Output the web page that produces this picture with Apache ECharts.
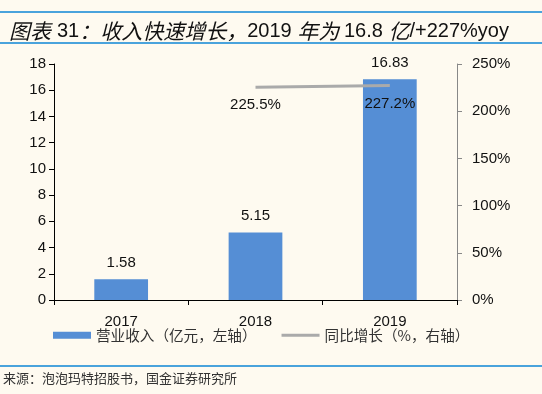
<!DOCTYPE html>
<html><head><meta charset="utf-8">
<script src="https://cdn.jsdelivr.net/npm/echarts@6/dist/echarts.min.js"></script>
<style>html,body{margin:0;padding:0;background:#fefaf0}#c{width:542px;height:394px}</style>
</head><body><div id="c"></div>
<script>
const categories = ['2017', '2018', '2019'];
const revenue = [1.58, 5.15, 16.83];
const growth = [null, 225.5, 227.2];
const growthLabels = ['', '225.5%', '227.2%'];
const leftTicks = [0, 18, 2];
const rightTicks = [0, 250, 50];

const chart = echarts.init(document.getElementById('c'), null, {renderer: 'canvas'});
const font = '"Liberation Sans", Arial, sans-serif';
const cjk = '"Noto Sans CJK SC", sans-serif';
chart.setOption({
  backgroundColor: '#fefaf0',
  animation: false,
  title: {
    text: '{c|图表}{s| }{n|31}{c|：收入快速增长，}{n|2019 }{c|年为 }{n|16.8 }{c|亿}{n|/+227%yoy}',
    left: 4, top: 16,
    textStyle: {
      fontWeight: 'normal',
      rich: {
        c: {fontSize: 21, fontStyle: 'italic', fontWeight: 'normal', color: '#111', fontFamily: cjk},
        n: {fontSize: 20, fontWeight: 'normal', color: '#111', fontFamily: font},
        s: {width: 6}
      }
    }
  },
  graphic: [
    {type: 'rect', shape: {x: 0, y: 11, width: 542, height: 2}, style: {fill: '#4aa3dc'}},
    {type: 'rect', shape: {x: 0, y: 42, width: 542, height: 2}, style: {fill: '#4aa3dc'}},
    {type: 'rect', shape: {x: 0, y: 365, width: 542, height: 2}, style: {fill: '#4aa3dc'}},
    {type: 'text', left: 3, top: 372, style: {text: '来源：泡泡玛特招股书，国金证券研究所', fontSize: 13, fill: '#333', fontFamily: cjk}}
  ],
  grid: {left: 54, right: 85, top: 64, bottom: 94, containLabel: false},
  legend: {
    left: 48, top: 323, itemGap: 25,
    textStyle: {fontSize: 14.6, color: '#333', fontFamily: cjk},
    data: [
      {name: '营业收入（亿元，左轴）', icon: 'rect', itemStyle: {color: '#558ed5'}},
      {name: '同比增长（%，右轴）', icon: 'path://M0,0 L0,0 M0,2 L38,2 L38,5 L0,5 Z M38,7 L38,7', itemStyle: {color: '#aaaaaa'}}
    ],
    itemWidth: 38, itemHeight: 7
  },
  xAxis: {
    type: 'category', data: categories,
    axisLine: {lineStyle: {color: '#000', width: 1}},
    axisTick: {show: true, alignWithLabel: false, length: 5, inside: false, lineStyle: {color: '#000'}},
    axisLabel: {fontSize: 15, color: '#111', margin: 14, fontFamily: font}
  },
  yAxis: [
    {
      type: 'value', min: leftTicks[0], max: leftTicks[1], interval: leftTicks[2],
      axisLine: {show: true, lineStyle: {color: '#000'}},
      axisTick: {show: true, length: 5, lineStyle: {color: '#000'}},
      splitLine: {show: false},
      axisLabel: {fontSize: 15, color: '#111', margin: 8, fontFamily: font}
    },
    {
      type: 'value', min: rightTicks[0], max: rightTicks[1], interval: rightTicks[2], position: 'right',
      axisLine: {show: true, lineStyle: {color: '#888'}},
      axisTick: {show: true, length: 5, lineStyle: {color: '#888'}},
      splitLine: {show: false},
      axisLabel: {fontSize: 15, color: '#111', margin: 15, fontFamily: font, formatter: '{value}%'}
    }
  ],
  series: [
    {
      name: '营业收入（亿元，左轴）', type: 'bar', data: revenue, barWidth: '40%',
      itemStyle: {color: '#558ed5'},
      label: {show: true, position: 'top', distance: 9, fontSize: 15, color: '#111', fontFamily: font}
    },
    {
      name: '同比增长（%，右轴）', type: 'line', yAxisIndex: 1, data: growth,
      symbol: 'circle', symbolSize: 1, showSymbol: true,
      lineStyle: {color: '#aaaaaa', width: 3}, itemStyle: {color: 'rgba(0,0,0,0)'},
      label: {show: true, position: 'bottom', distance: 10, offset: [14, 0], fontSize: 15, color: '#111', fontFamily: font,
        formatter: p => growthLabels[p.dataIndex]},
      labelLayout: {hideOverlap: false},
      z: 5
    }
  ]
});
</script></body></html>
